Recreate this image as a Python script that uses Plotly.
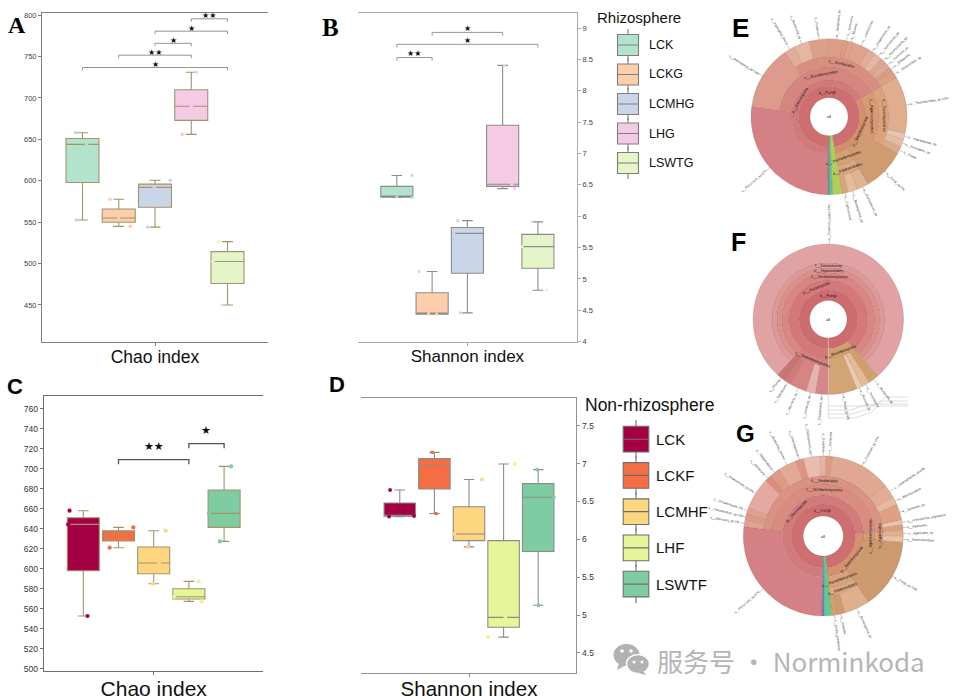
import math
import plotly.graph_objects as go

W, H = 954, 699
def px(x): return x / W
def py(y): return 1 - y / H

# ---------- box data ----------
POS = [0, 1, 2, 3, 4]
A_low = [552.6, 545, 544, 656, 450]
A_q1 = [598, 550, 568, 673, 476]
A_med = [644, 555, 592, 690, 502.5]
A_q3 = [651, 566, 596, 710, 514.5]
A_high = [658, 577.7, 600.6, 731, 526.5]
A_dx = [[-.19, .11, -.17], [-.24, 0, .32], [.42, -.02, -.2], [.13, 0, -.25], [-.23, -.4, -.18]]

B_low = [6.30, 4.44, 4.46, 6.44, 4.82]
B_q1 = [6.305, 4.44, 5.09, 6.475, 5.17]
B_med = [6.31, 4.446, 5.727, 6.51, 5.515]
B_q3 = [6.476, 4.78, 5.82, 7.45, 5.71]
B_high = [6.65, 5.12, 5.93, 8.405, 5.91]
B_dx = [[.43, .0, .44], [-.37, -.1, .13], [-.27, -.39, -.2], [.05, .26, .34], [-.18, -.45, .25]]

C_low = [552.7, 621, 585, 567.3, 627.3]
C_q1 = [598, 627.7, 595, 569.7, 641.3]
C_med = [644.3, 635, 605.7, 572, 655.3]
C_q3 = [651, 638, 621.7, 580, 678.7]
C_high = [658, 641.3, 638, 587.3, 702.3]
C_dx = [[-.39, -.43, .12], [.42, .41, -.25], [.34, .15, -.02], [.28, -.42, .36], [.2, -.43, -.12]]

D_low = [6.30, 6.34, 5.9, 4.71, 5.13]
D_q1 = [6.305, 6.665, 5.983, 4.84, 5.84]
D_med = [6.308, 6.985, 6.07, 4.97, 6.555]
D_q3 = [6.48, 7.065, 6.43, 5.983, 6.735]
D_high = [6.651, 7.148, 6.79, 6.994, 6.92]
D_dx = [[-.28, .41, -.31], [-.06, .21, .05], [.37, -.42, -.03], [.32, .05, -.45], [-.03, .45, .01]]

RHIZO_NAMES = ["LCK", "LCKG", "LCMHG", "LHG", "LSWTG"]
RHIZO_COLORS = ["#b3e2cd", "#fdcdac", "#cbd5e8", "#f4cae4", "#e6f5c9"]
NON_NAMES = ["LCK", "LCKF", "LCMHF", "LHF", "LSWTF"]
NON_COLORS = ["#a50044", "#f46d43", "#fdd67f", "#e6f598", "#7fcca3"]

# brackets: from group, to group, height, stars
A_br_from = [0, 1, 2, 2, 3]
A_br_to = [4, 3, 3, 4, 4]
A_br_y = [736.8, 751.7, 766, 780.7, 795.6]
A_br_star = ["★", "★★", "★", "★", "★★"]
B_br_from = [0, 0, 1]
B_br_to = [1, 4, 3]
B_br_y = [8.53, 8.74, 8.93]
B_br_star = ["★★", "★", "★"]
C_br_from = [1, 3]
C_br_to = [3, 4]
C_br_y = [709, 725]
C_br_star = ["★★", "★"]

# ---------- krona data: level, end level, share %, colour, label ----------
E_level = [0, 1, 2, 2, 3, 3, 4, 4, 4, 4, 4, 4, 4, 4, 4, 4, 4, 4, 4, 1, 2, 3, 4, 4, 4, 4, 2, 2, 3, 4, 4, 4, 0, 0, 0]
E_end = [1, 2, 5, 3, 5, 4, 5, 5, 5, 5, 5, 5, 5, 5, 5, 5, 5, 5, 5, 2, 3, 4, 5, 5, 5, 5, 5, 3, 4, 5, 5, 5, 5, 5, 5]
E_share = [97, 66.4, 26.8, 39.6, 13.4, 26.2, 2.2, 3.2, 4.2, 3, 1, 1, 3.4, 1.6, 1.6, 1.2, 1.2, 1.0, 1.6,
           30.6, 16.2, 16.2, 11.8, 1.2, 1.6, 1.6, 8.8, 5.6, 5.6, 2.4, 2, 1.2, 2.0, 0.7, 0.3]
E_color = ["#cf6e70", "#d2797b", "#d48084", "#d6857f", "#dc9b8c", "#d98f80", "#e3ac9b", "#e6b6a5", "#dd9f8a", "#dc9e88",
           "#dd9b82", "#dfa28a", "#dea38d", "#e2ad98", "#e5b8a6", "#dea68e", "#e0aa94", "#dc9c80", "#dca183",
           "#d48f6b", "#d89a73", "#dba27c", "#e0ad8f", "#e9c6b4", "#e6bda3", "#dbaa8a", "#cf9b70", "#d79f75", "#dba87f",
           "#dfb48f", "#e3bd9a", "#d9a579", "#b0cf5a", "#5fc08f", "#5d8fc0"]
E_label = ["k__Fungi", "p__Ascomycota", "s__Penicillium_sp 27%", "c__Eurotiomycetes", "s__Arthrobotrys_sp 13%", "o__Sordariales",
           "s__Aspergillus_flavus", "s__Mortierella_sp", "s__Fusarium", "s__Setophoma_sp", "s__Ilyonectria", "s__Mycena",
           "s__Lophotrichus", "s__Chaetomium_sp", "s__Talaromyces_sp", "s__Pyrenochaeta_sp", "s__Humicola_sp", "s__Gibberella", "s__Acremonium_sp",
           "p__Basidiomycota", "c__Agaricomycetes", "o__Trechisporales", "s__Trechisporales_sp 12%", "s__Clavariaceae_sp", "s__Russulales_sp", "s__Exidia",
           "s__Fungi_sp 9%", "c__Tremellomycetes", "o__Filobasidiales", "s__Guehomyces_sp", "s__Bensingtonia_sp", "s__Cryptococcus", "", "", ""]
E_edges = [19, 30.5, 37, 50, 60, 78]

F_level = [0, 1, 2, 3, 3, 3, 3, 3, 2, 3, 4, 5, 1, 2, 2, 2, 2]
F_end = [1, 2, 3, 6, 6, 6, 6, 6, 3, 4, 5, 6, 2, 6, 6, 6, 6]
F_share = [100, 88.6, 11.8, 2.8, 2.0, 3.6, 1.4, 2.0, 76.8, 76.8, 76.8, 76.8, 11.4, 2.2, 1.8, 1.2, 6.2]
F_color = ["#cd6c6e", "#d5787a", "#d4807e", "#d9868a", "#e6b3ae", "#d88484", "#d07a7a", "#c97373", "#da8684", "#dc908e", "#df9898", "#e0a2a2",
           "#d3a06c", "#cf9f6d", "#e0bb95", "#ebcbb0", "#d4a574"]
F_label = ["k__Fungi", "p__Ascomycota", "c__Dothideomycetes", "s__Chaetomium_sp", "s__Humicola_sp", "s__Alternaria_sp", "s__Epicoccum", "s__Phoma",
           "c__Sordariomycetes", "o__Hypocreales", "f__Nectriaceae", "s__Fusarium_solani 77%",
           "p__Basidiomycota", "s__Mortierella_sp", "s__Trechispora", "s__Russula_sp", "s__Fungi_sp 6%"]
F_edges = [18.7, 29.3, 39.3, 46.7, 51.7, 56.7, 75.3]

G_level = [0, 1, 2, 2, 3] + [4] * 17 + [1, 2, 3, 4, 4, 2, 2, 3, 4, 4, 4, 0, 0]
G_end = [1, 2, 5, 3, 4] + [5] * 17 + [2, 3, 4, 5, 5, 5, 3, 4, 5, 5, 5, 5, 5]
G_share = [98, 73.6, 26.6, 47, 47, 1.3, 1.3, 1.3, 6.4, 1.4, 2, 3.8, 1.6, 3.4, 1.2, 1.2, 12.4, 2.8, 1.6, 3.2, 1, 1.1,
           24.4, 2.4, 2.4, 1.2, 1.2, 14.2, 7.8, 7.8, 5.2, 1.6, 1.0, 1.5, 0.5]
G_color = ["#cf6e70", "#d37a7c", "#d48084", "#d98c80", "#da9283", "#e0a28f", "#dd9a88", "#e0a28f", "#e5a9a1", "#d98d7a", "#de9a88", "#e2a898",
           "#dd9580", "#e8bdb0", "#e5b2a4", "#dd9a84", "#e0a793", "#e3ac95", "#e6b9a1", "#dea184", "#e8c4ae", "#dc9f80",
           "#d4916f", "#d89a73", "#dba27c", "#e2b08e", "#e8c2a4", "#cc9a6e", "#d9a27a", "#dca97f", "#deb08b", "#d19a6a", "#d5a070", "#65c98d", "#5d86c8"]
G_label = ["k__Fungi", "p__Ascomycota", "s__Penicillium_sp 27%", "c__Sordariomycetes", "o__Sordariales",
           "s__Alternaria_sp 1%", "s__Oidiodendron_sp 1%", "s__Pestalotiopsis 1%", "s__Chaetomium_sp 6%", "s__Gibberella", "s__Stagonospora",
           "s__Mortierella_thermo", "s__Chrysosporium", "s__Cladosporium_sp", "s__Exophiala", "s__Ilyonectria", "s__Fusarium_sp 12%",
           "s__Lasiosphaeria_sessilis", "s__Myrmecridium", "s__Dokmaia_sp", "s__Arthrobotrys_oligospora", "s__Agaricales",
           "p__Basidiomycota", "c__Agaricomycetes", "o__Agaricales", "s__Agaricales_sp", "s__Ramichloridium", "s__Fungi_sp 13%",
           "c__Tremellomycetes", "o__Filobasidiales", "s__Bensingtonia_sp", "s__Russula", "s__Exidia_glandulosa", "", ""]
G_edges = [20, 32, 41, 52, 60, 80]

fig = go.Figure()
layout = dict(width=W, height=H, autosize=False, margin=dict(l=0, r=0, t=0, b=0),
              paper_bgcolor="white", plot_bgcolor="white", showlegend=False, boxmode="overlay", template="none",
              font=dict(family="Liberation Sans"))
ann = []

def text(x, y, s, size, color="#111", family="Liberation Sans", anchor="center", bold=False, angle=0):
    ann.append(dict(x=px(x), y=py(y), xref="paper", yref="paper", text=f"<b>{s}</b>" if bold else s, showarrow=False,
                    font=dict(size=size, color=color, family=family), xanchor=anchor, yanchor="middle", textangle=angle))

def panel(n, box, xrange, yrange, dtick, side, title, tsize, tickfont, linecol, linew, data, dx, names, colors,
          boxline, standoff, msize, labelcol):
    x0, y0, x1, y1 = box
    low, q1, med, q3, high = data
    xa, ya = ("x%d" % n, "y%d" % n)
    layout["xaxis%d" % n] = dict(domain=[px(x0), px(x1)], range=xrange, anchor=ya, tickmode="array", tickvals=[2], ticktext=[title],
                                 tickfont=dict(size=tsize, color="#111"), showgrid=False, zeroline=False, showline=True, mirror=True,
                                 linecolor=linecol, linewidth=linew, ticks="outside", ticklen=3, tickcolor=linecol, tickwidth=1,
                                 automargin=False, ticklabelstandoff=standoff)
    layout["yaxis%d" % n] = dict(domain=[py(y1), py(y0)], range=yrange, anchor=xa, side=side, dtick=dtick, showgrid=False, zeroline=False,
                                 showline=True, linecolor=linecol, linewidth=linew, ticks="outside", ticklen=3, tickcolor=linecol,
                                 tickwidth=1, tickfont=dict(size=tickfont, color=labelcol), automargin=False)
    for i in POS:
        fig.add_trace(go.Box(x=[POS[i]], lowerfence=[low[i]], q1=[q1[i]], median=[med[i]], q3=[q3[i]], upperfence=[high[i]],
                             name=names[i], width=0.91, whiskerwidth=0.33, fillcolor=colors[i], boxpoints=False,
                             line=dict(color=boxline, width=1.1), xaxis=xa, yaxis=ya, hoverinfo="skip"))
        vals = [high[i], med[i], low[i]]
        fig.add_trace(go.Scatter(x=[POS[i] + d for d in dx[i]], y=vals, mode="markers", xaxis=xa, yaxis=ya, hoverinfo="skip",
                                 marker=dict(size=msize, color=colors[i], line=dict(width=0))))

def brackets(n, fr, to, ys, stars, drop, color, width, star_size, star_off, starcol="#111"):
    xa, ya = "x%d" % n, "y%d" % n
    for a, b, y, s in zip(fr, to, ys, stars):
        fig.add_trace(go.Scatter(x=[POS[a], POS[a], POS[b], POS[b]], y=[y - drop, y, y, y - drop], mode="lines", xaxis=xa, yaxis=ya,
                                 hoverinfo="skip", line=dict(color=color, width=width)))
        ann.append(dict(x=(POS[a] + POS[b]) / 2, y=y + star_off, xref=xa, yref=ya, text=s, showarrow=False, xanchor="center", yanchor="middle",
                        font=dict(size=star_size, color=starcol, family="DejaVu Sans")))

panel(1, (42, 12.7, 268, 342), [-1.117, 5.117], [405.3, 803], 50, "left", "Chao index", 17.5, 7.5, "#808080", 1,
      (A_low, A_q1, A_med, A_q3, A_high), A_dx, RHIZO_NAMES, RHIZO_COLORS, "#a3946c", -4, 3.6, "#444")
panel(2, (357.7, 12.7, 576.7, 341.7), [-1.11, 5.10], [4, 9.244], 0.5, "right", "Shannon index", 17, 7.5, "#aaaaaa", 1.4,
      (B_low, B_q1, B_med, B_q3, B_high), B_dx, RHIZO_NAMES, RHIZO_COLORS, "#8c8c8c", -4, 3.2, "#444")
panel(3, (43.7, 396.3, 263.3, 671.3), [-1.125, 5.114], [497.4, 772.4], 20, "left", "Chao index", 21, 8.5, "#707070", 1,
      (C_low, C_q1, C_med, C_q3, C_high), C_dx, NON_NAMES, NON_COLORS, "#a3946c", -5, 4.2, "#333")
panel(4, (361, 398.3, 576.3, 673), [-1.121, 5.101], [4.236, 7.861], 0.5, "right", "Shannon index", 20.5, 8.5, "#909090", 1.2,
      (D_low, D_q1, D_med, D_q3, D_high), D_dx, NON_NAMES, NON_COLORS, "#8c8c8c", -6, 3.8, "#333")

brackets(1, A_br_from, A_br_to, A_br_y, A_br_star, 3.6, "#8a8a8a", 0.9, 8, 3.5)
brackets(2, B_br_from, B_br_to, B_br_y, B_br_star, 0.05, "#8a8a8a", 0.9, 8, 0.06)
brackets(3, C_br_from, C_br_to, C_br_y, C_br_star, 4.5, "#555555", 1.3, 11, 13)

# legends
def legend(n, dom_x, dom_y, names, colors, bw, hh, ext, label_x, size, line):
    xa, ya = "x%d" % n, "y%d" % n
    layout["xaxis%d" % n] = dict(domain=[px(dom_x[0]), px(dom_x[1])], range=[-1, 1], anchor=ya, visible=False)
    layout["yaxis%d" % n] = dict(domain=[py(dom_y[1]), py(dom_y[0])], range=[4 + ext, -ext], anchor=xa, visible=False)
    span = (dom_y[1] - dom_y[0]) / (4 + 2 * ext)
    for i, nm in enumerate(names):
        fig.add_trace(go.Box(x=[0], lowerfence=[i - ext], q1=[i - hh], median=[i], q3=[i + hh], upperfence=[i + ext], width=bw, whiskerwidth=0,
                             fillcolor=colors[i], boxpoints=False, line=dict(color=line, width=1.1), xaxis=xa, yaxis=ya, hoverinfo="skip", name=nm))
        text(label_x, dom_y[0] + (i + ext) * span, nm, size, anchor="left")

legend(5, (600, 656), (29, 179), RHIZO_NAMES, RHIZO_COLORS, 0.75, 0.355, 0.54, 646.5, 12.5, "#7f7f7f")
legend(6, (608, 664), (420, 603.3), NON_NAMES, NON_COLORS, 0.914, 0.354, 0.53, 653.5, 15, "#6f6f6f")
text(638.5, 17, "Rhizosphere", 15, anchor="center")
text(649.5, 405, "Non-rhizosphere", 17.5, anchor="center")

# krona charts
def krona(sub, cx, cy, level, end, share, color, label, edges, start):
    nlev = len(edges) - 1
    cursor = [0.0] * nlev
    mid, span, base, rr = [], [], [], []
    RX = 100
    lead_r, lead_t = [], []
    for l, e, s, c, t in zip(level, end, share, color, label):
        a0 = cursor[l]
        a1 = a0 + s
        for k in range(l, e):
            cursor[k] = a1
        th0 = start + a0 * 3.6
        wd = s * 3.6
        m = (th0 + wd / 2) % 360
        mid.append(m); span.append(wd); base.append(edges[l]); rr.append(edges[e] - edges[l])
        if not t:
            continue
        rad = math.radians(m)
        if e == nlev:
            out = edges[-1]
            lsize = 3.2
            w = len(t) * lsize * 0.5
            r = out + 4 + w / 2
            ang = m - 90 if m <= 180 else m + 90 - 360
            lead_r += [out, out + 4, None]; lead_t += [m, m, None]
            text(cx + r * math.sin(rad), cy - r * math.cos(rad), t, lsize, color="#333", angle=ang)
        else:
            r = (edges[l] + edges[e]) / 2
            if m < 90: ang = m
            elif m < 270: ang = m - 180
            else: ang = m - 360
            text(cx + r * math.sin(rad), cy - r * math.cos(rad), t, 4, color="#111", angle=ang)
    fig.add_trace(go.Barpolar(theta=mid, width=span, base=base, r=rr, subplot=sub, hoverinfo="skip",
                              marker=dict(color=color, line=dict(color="rgba(120,70,60,0.35)", width=0.4))))
    fig.add_trace(go.Scatterpolar(theta=lead_t, r=lead_r, mode="lines", subplot=sub, hoverinfo="skip",
                                  line=dict(color="#777", width=0.4)))
    layout[sub] = dict(domain=dict(x=[px(cx - RX), px(cx + RX)], y=[py(cy + RX), py(cy - RX)]), barmode="overlay", bgcolor="rgba(0,0,0,0)",
                       radialaxis=dict(range=[0, RX], visible=False), angularaxis=dict(rotation=90, direction="clockwise", visible=False))
    text(cx, cy, "all", 4, color="#111")

krona("polar", 829, 116.7, E_level, E_end, E_share, E_color, E_label, E_edges, 181)
krona("polar2", 828.3, 319.3, F_level, F_end, F_share, F_color, F_label, F_edges, 180)
krona("polar3", 823.3, 536, G_level, G_end, G_share, G_color, G_label, G_edges, 181)

# gray guide lines under F
shapes = []
def path(pts, col="#cfcfcf", w=0.7):
    d = "M " + " L ".join(f"{px(x):.5f},{py(y):.5f}" for x, y in pts)
    shapes.append(dict(type="path", path=d, xref="paper", yref="paper", line=dict(color=col, width=w)))
path([(828.3, 338), (828.3, 418), (855, 418), (872, 412), (885, 397), (908, 397)])
path([(828.3, 414), (852, 414), (868, 409), (880, 401), (908, 401)])
path([(828.3, 410), (850, 410), (866, 405), (878, 404), (908, 404)])
path([(828.3, 406), (860, 406), (908, 406)])

# watermark icon
def ell(cx, cy, rx, ry, col, lw=0, lc="white"):
    shapes.append(dict(type="circle", xref="paper", yref="paper", x0=px(cx - rx), x1=px(cx + rx), y0=py(cy + ry), y1=py(cy - ry),
                       fillcolor=col, line=dict(width=lw, color=lc)))
GR = "#b2b2b2"
ell(626.5, 655, 13, 11, GR)
shapes.append(dict(type="path", xref="paper", yref="paper", fillcolor=GR, line=dict(width=0),
                   path=f"M {px(619)},{py(663)} L {px(617)},{py(670)} L {px(626)},{py(665)} Z"))
ell(638, 664, 11.5, 9.5, GR, 1.5)
shapes.append(dict(type="path", xref="paper", yref="paper", fillcolor=GR, line=dict(width=0),
                   path=f"M {px(643)},{py(671)} L {px(646)},{py(675)} L {px(638)},{py(673)} Z"))
for c in [(622, 651, 1.8), (631, 651, 1.8), (634, 662, 1.5), (642, 662, 1.5)]:
    ell(c[0], c[1], c[2], c[2], "white")

text(655, 660, "服务号 · Norminkoda", 26, color="#b5b5b5", family="Noto Sans CJK SC", anchor="left")

# panel letters
text(17, 25, "A", 24, color="#000", family="Liberation Serif", bold=True)
text(330, 28, "B", 25, color="#000", family="Liberation Serif", bold=True)
text(15, 386, "C", 22, color="#000", bold=True)
text(337, 384, "D", 22, color="#000", bold=True)
text(740, 28, "E", 26, color="#000", bold=True)
text(738, 242, "F", 25, color="#000", bold=True)
text(745, 433, "G", 24, color="#000", bold=True)

layout["annotations"] = ann
layout["shapes"] = shapes
fig.update_layout(**layout)
fig.write_html("out.html", config=dict(displayModeBar=False), post_script="document.body.style.margin='0';document.documentElement.style.overflow='hidden';")
